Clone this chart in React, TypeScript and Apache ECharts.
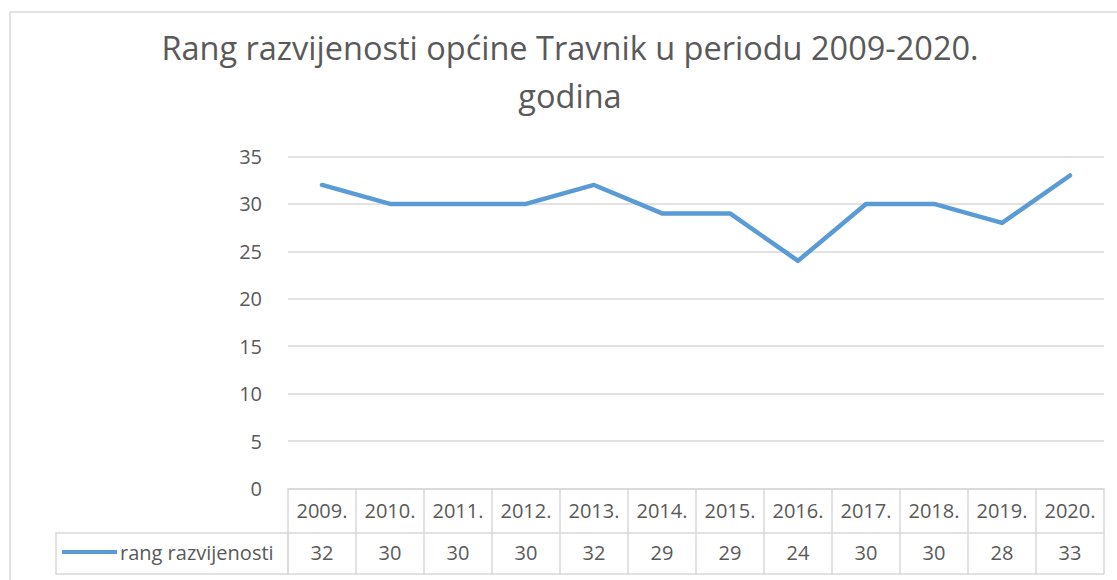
import React, { useEffect, useRef } from "react";
import * as echarts from "echarts";

const categories = ["2009.", "2010.", "2011.", "2012.", "2013.", "2014.", "2015.", "2016.", "2017.", "2018.", "2019.", "2020."];
const values = [32, 30, 30, 30, 32, 29, 29, 24, 30, 30, 28, 33];
const seriesName = "rang razvijenosti";
const titleText = "Rang razvijenosti općine Travnik u periodu 2009-2020.\ngodina";
const yMin = 0;
const yMax = 35;
const yInterval = 5;

const W = 1117;
const H = 580;
const GRID_LEFT = 288;
const GRID_RIGHT_X = 1104;
const GRID_TOP = 156.5;
const GRID_BOTTOM_Y = 488.5;
const ROW2_Y = 533;
const ROW3_Y = 574;
const FONT = "'Open Sans', 'Noto Sans', sans-serif";
const TXT = "#595959";
const LINE = "#d9d9d9";

export default function App() {
  const ref = useRef<HTMLDivElement>(null);
  useEffect(() => {
    if (!ref.current) return;
    const chart = echarts.init(ref.current, null, { renderer: "svg" });
    chart.setOption({
      animation: false,
      backgroundColor: "#ffffff",
      textStyle: { fontFamily: FONT },
      title: {
        text: titleText,
        left: 565,
        textAlign: "center",
        top: 18,
        padding: 5,
        textStyle: { fontFamily: FONT, fontSize: 32.5, fontWeight: "normal", color: TXT, lineHeight: 48 },
      },
      legend: {
        data: [{ name: seriesName, icon: "rect" }],
        left: 62,
        top: 540,
        itemWidth: 55,
        itemHeight: 4,
        itemGap: 4,
        padding: 0,
        textStyle: { fontFamily: FONT, fontSize: 20, color: TXT, lineHeight: 24, padding: [0, 0, 0, -2] },
      },
      grid: {
        left: GRID_LEFT,
        right: W - GRID_RIGHT_X,
        top: GRID_TOP,
        bottom: H - GRID_BOTTOM_Y,
        containLabel: false,
      },
      xAxis: [
        {
          type: "category",
          data: categories,
          boundaryGap: true,
          position: "bottom",
          axisLine: { show: true, lineStyle: { color: LINE, width: 1.5 } },
          axisTick: { show: true, interval: 0, length: ROW3_Y - GRID_BOTTOM_Y, lineStyle: { color: LINE, width: 1.5 } },
          axisLabel: { interval: 0, margin: 12, fontFamily: FONT, fontSize: 20, color: TXT },
        },
        {
          type: "category",
          data: values.map((v) => String(v)),
          boundaryGap: true,
          position: "bottom",
          offset: ROW2_Y - GRID_BOTTOM_Y,
          axisLine: { show: true, lineStyle: { color: LINE, width: 1.5 } },
          axisTick: { show: false },
          axisLabel: { interval: 0, margin: 9, fontFamily: FONT, fontSize: 20, color: TXT },
        },
      ],
      yAxis: {
        type: "value",
        min: yMin,
        max: yMax,
        interval: yInterval,
        axisLine: { show: false },
        axisTick: { show: false },
        splitLine: { show: true, lineStyle: { color: LINE, width: 1.5 } },
        axisLabel: { margin: 26, fontFamily: FONT, fontSize: 20, color: TXT },
      },
      graphic: [
        {
          type: "rect",
          shape: { x: 10, y: 12, width: W + 20, height: H + 20 },
          style: { fill: "none", stroke: LINE, lineWidth: 1.5 },
          silent: true,
        },
        {
          type: "rect",
          shape: { x: 56, y: ROW2_Y, width: GRID_LEFT - 56, height: ROW3_Y - ROW2_Y },
          style: { fill: "none", stroke: LINE, lineWidth: 1.5 },
          silent: true,
        },
        {
          type: "line",
          shape: { x1: GRID_LEFT, y1: ROW3_Y, x2: GRID_RIGHT_X, y2: ROW3_Y },
          style: { stroke: LINE, lineWidth: 1.5 },
          silent: true,
        },
      ],
      series: [
        {
          name: seriesName,
          type: "line",
          data: values,
          xAxisIndex: 0,
          symbol: "none",
          lineStyle: { color: "#5B9BD5", width: 4.5, cap: "round", join: "round" },
          itemStyle: { color: "#5B9BD5" },
        },
      ],
    });
    return () => chart.dispose();
  }, []);
  return <div ref={ref} style={{ position: "fixed", left: 0, top: 0, width: W, height: H }} />;
}
